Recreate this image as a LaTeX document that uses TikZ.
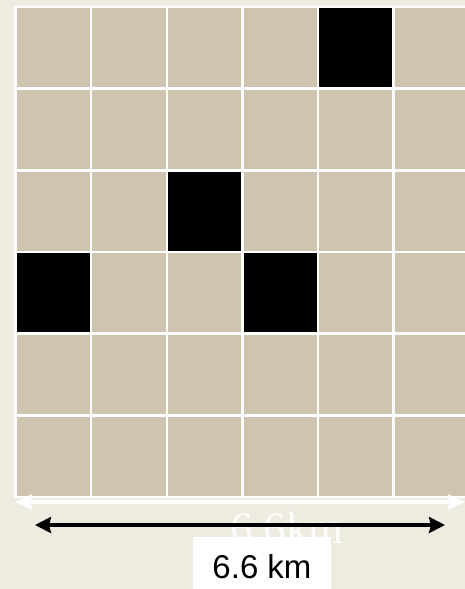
\documentclass[tikz,border=0pt]{standalone}
\usepackage{fontspec}
\setmainfont{Liberation Serif}
\newfontfamily\labelfont{Liberation Sans}
\usetikzlibrary{arrows.meta, positioning}
\definecolor{bgBase}{RGB}{238,235,224}
\definecolor{cellTan}{RGB}{207,196,176}

\begin{document}
\begin{tikzpicture}[x=1pt, y=-1pt,
    cell/.style={fill=cellTan},
    blk/.style={fill=black},
    warr/.style={{Stealth[length=17pt, width=15pt, inset=2pt]}-{Stealth[length=17pt, width=15pt, inset=2pt]}, line width=4pt, white},
    barr/.style={{Stealth[length=16pt, width=16pt, inset=2pt]}-{Stealth[length=16pt, width=16pt, inset=2pt]}, line width=3.5pt, black},
    ghost/.style={font=\fontsize{45}{45}\selectfont, text=white, text opacity=0.85, inner sep=0pt, anchor=base},
    kmbox/.style={fill=white, minimum width=138pt, minimum height=70pt, inner sep=0pt, anchor=north},
    kmtext/.style={font=\labelfont\fontsize{33}{33}\selectfont, inner sep=0pt},
]
\useasboundingbox (0,0) rectangle (465,589);
\fill[bgBase] (0,0) rectangle (465,589);

% ========== GRID (6 x 6) ==========
\fill[white] (14,6) rectangle (465,498);
\foreach \c in {0,...,5}
  \foreach \r in {0,...,5}
    \fill[cell] ({16.7+75.6*\c},{8.3+81.7*\r}) rectangle ++(73.3,79);

% black cells (col/row)
\foreach \c/\r in {4/0, 2/2, 0/3, 3/3}
  \fill[blk] ({16.7+75.6*\c},{8.3+81.7*\r}) rectangle ++(73.3,79);

% ========== SCALE ==========
\coordinate (wl) at (15,502);
\coordinate (wr) at (465,502);
\draw[warr] (wl) -- (wr);

\node[ghost] (ghostlbl) at (287,543) {6.6km};

\coordinate (bl) at (35,525);
\coordinate (br) at (445,525);
\draw[barr] (bl) -- (br);

\node[kmbox] (km) at (262,537) {};
\node[kmtext] at (262,567) (kmlbl) {6.6 km};

\end{tikzpicture}
\end{document}
